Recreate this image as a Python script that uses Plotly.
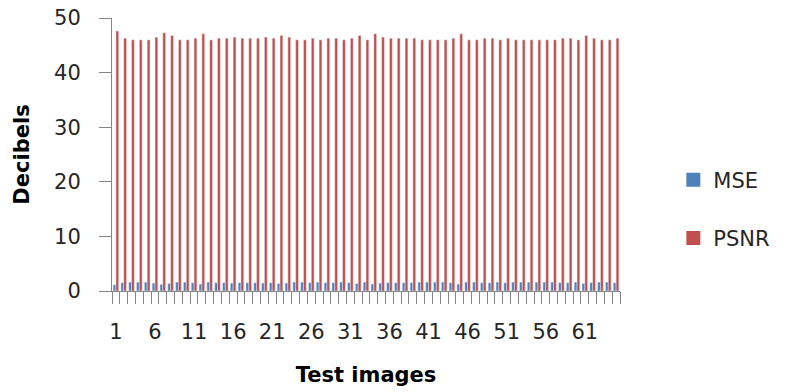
import plotly.graph_objects as go

# Test image indices 1..65
images = list(range(1, 66))

psnr = [47.6, 46.3, 46.0, 46.0, 46.0, 46.5, 47.3, 46.8, 46.0, 46.0,
        46.3, 47.1, 46.0, 46.3, 46.3, 46.5, 46.3, 46.3, 46.3, 46.5,
        46.3, 46.8, 46.5, 46.0, 46.0, 46.3, 46.0, 46.3, 46.3, 46.0,
        46.3, 46.8, 46.0, 47.1, 46.5, 46.3, 46.3, 46.3, 46.3, 46.0,
        46.0, 46.0, 46.0, 46.3, 47.1, 46.0, 46.0, 46.3, 46.3, 46.0,
        46.3, 46.0, 46.0, 46.0, 46.0, 46.0, 46.0, 46.3, 46.3, 46.0,
        46.8, 46.3, 46.0, 46.0, 46.3]

mse = [1.13, 1.52, 1.63, 1.63, 1.63, 1.45, 1.21, 1.36, 1.63, 1.63,
       1.52, 1.27, 1.63, 1.52, 1.52, 1.45, 1.52, 1.52, 1.52, 1.45,
       1.52, 1.36, 1.45, 1.63, 1.63, 1.52, 1.63, 1.52, 1.52, 1.63,
       1.52, 1.36, 1.63, 1.27, 1.45, 1.52, 1.52, 1.52, 1.52, 1.63,
       1.63, 1.63, 1.63, 1.52, 1.27, 1.63, 1.63, 1.52, 1.52, 1.63,
       1.52, 1.63, 1.63, 1.63, 1.63, 1.63, 1.63, 1.52, 1.52, 1.63,
       1.36, 1.52, 1.63, 1.63, 1.52]

series_names = ["MSE", "PSNR"]
series_colors = ["#4F81BD", "#C0504D"]

x_tick_vals = list(range(1, 66, 5))
y_tick_vals = [0, 10, 20, 30, 40, 50]

FONT = "'DejaVu Sans', sans-serif"
AXIS_GREY = "#868686"
TEXT = "#262626"

fig = go.Figure()
for name, vals, col in zip(series_names, [mse, psnr], series_colors):
    fig.add_trace(go.Bar(x=images, y=vals, name=name, marker_color=col,
                         showlegend=False))
    # legend key drawn as a larger square swatch
    fig.add_trace(go.Scatter(x=[None], y=[None], mode="markers", name=name,
                             legendgroup=name,
                             marker=dict(symbol="square", size=14, color=col)))

fig.update_layout(
    width=787, height=392,
    margin=dict(l=112, r=162, t=18, b=101),
    paper_bgcolor="white", plot_bgcolor="white",
    barmode="group", bargap=0.28, bargroupgap=0.0,
    font=dict(family=FONT, size=21, color=TEXT),
    showlegend=True,
    legend=dict(x=1.105, xanchor="left", y=0.30, yanchor="middle",
                traceorder="grouped", tracegroupgap=28, itemsizing="trace",
                font=dict(size=21, color=TEXT),
                bgcolor="rgba(0,0,0,0)"),
    xaxis=dict(
        range=[0.5, 65.5], automargin=False,
        tickmode="array", tickvals=x_tick_vals,
        ticktext=[str(v) for v in x_tick_vals],
        ticks="", ticklabelstandoff=22,
        showline=True, linecolor=AXIS_GREY, linewidth=1,
        showgrid=False, zeroline=False,
        minor=dict(tick0=0.5, dtick=1, ticks="outside", ticklen=12,
                   tickcolor=AXIS_GREY, tickwidth=1, showgrid=False),
        title=dict(text="<b>Test images</b>", standoff=24,
                   font=dict(size=21, color="#000000")),
        tickfont=dict(size=21, color=TEXT),
    ),
    yaxis=dict(
        range=[0, 50], automargin=False,
        tickmode="array", tickvals=y_tick_vals,
        ticks="outside", ticklen=12, tickcolor=AXIS_GREY, tickwidth=1,
        ticklabelstandoff=14,
        showline=True, linecolor=AXIS_GREY, linewidth=1,
        showgrid=False, zeroline=False,
        title=dict(text="<b>Decibels</b>", standoff=18,
                   font=dict(size=21, color="#000000")),
        tickfont=dict(size=21, color=TEXT),
    ),
)

fig.write_html("out.html")
